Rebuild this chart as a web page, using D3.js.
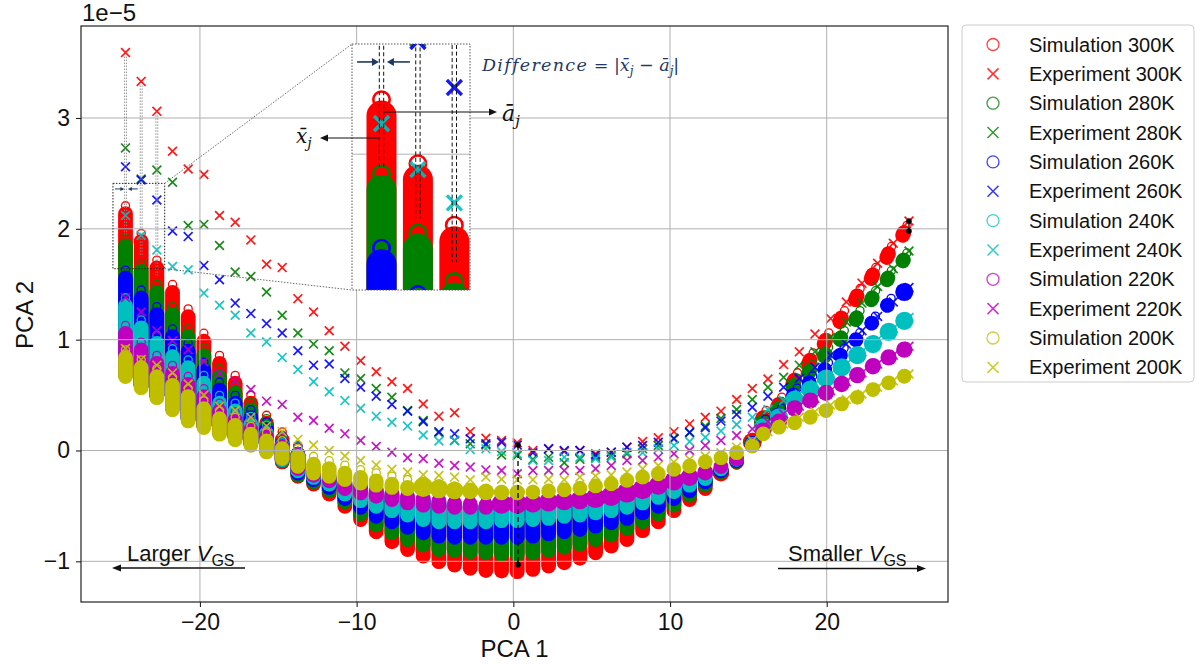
<!DOCTYPE html>
<html><head><meta charset="utf-8">
<script src="https://cdn.jsdelivr.net/npm/d3@7"></script>
<style>body{margin:0;background:#fff;} svg{display:block;}</style>
</head><body><svg id="c" width="1201" height="668"></svg>
<script>
// ---------- DATA ----------
const colX = [-24.75,-23.75,-22.75,-21.75,-20.75,-19.75,-18.75,-17.75,-16.75,-15.75,
-14.75,-13.75,-12.75,-11.75,-10.75,-9.75,-8.75,-7.75,-6.75,-5.75,
-4.75,-3.75,-2.75,-1.75,-0.75,0.25,1.25,2.25,3.25,4.25,
5.25,6.25,7.25,8.25,9.25,10.25,11.25,12.25,13.25,14.25,
15.25,16.25,17.25,18.25,19.25,20.25,21.25,22.25,23.25,24.25,25.25];
const simSlant = [0,0,0,0,0,0,0,0,0,0, 0,0,0,0,0,0,0,0,0,0, 0,0,0,0,0,0,0,0,0,0, 0,0,0,0,0,0,0,0,0,0,
0, 0.6,0.6,0.6,0.6,0.6,0.6,0.6,0.6,0.6,0.6];
const temps = ["300K","280K","260K","240K","220K","200K"];
const colors = ["#ff0000","#008000","#0000ff","#00bfbf","#bf00bf","#bfbf00"];

const expRed = [3.59,3.33,3.06,2.70,2.54,2.49,2.12,2.06,1.90,1.68,
1.65,1.37,1.25,1.08,0.94,0.81,0.71,0.62,0.56,0.42,
0.31,0.34,0.17,0.11,0.09,0.07,0.00,0.015,-0.01,0.00,
-0.03,-0.015,0.03,0.08,0.115,0.17,0.24,0.30,0.355,0.46,
0.56,0.645,0.775,0.89,1.05,1.19,1.34,1.51,1.69,1.87,2.07];
const expGreen = [2.73,2.45,2.53,2.42,2.03,2.04,1.85,1.61,1.57,1.43,
1.22,1.06,0.96,0.90,0.70,0.65,0.56,0.48,0.36,0.27,
0.16,0.09,0.06,0.05,-0.04,-0.045,-0.08,-0.06,-0.11,-0.08,
-0.06,-0.045,-0.03,0.015,0.045,0.11,0.16,0.22,0.29,0.37,
0.46,0.57,0.66,0.77,0.89,1.02,1.16,1.33,1.48,1.64,1.80];
const expBlue = [2.56,2.44,2.26,1.98,1.93,1.67,1.54,1.33,1.235,1.145,
1.06,0.90,0.77,0.78,0.65,0.57,0.49,0.415,0.355,0.26,
0.17,0.15,0.105,0.06,0.075,0.05,-0.02,0.015,0.00,0.00,
-0.04,-0.015,0.03,0.045,0.075,0.105,0.165,0.205,0.265,0.325,
0.39,0.49,0.57,0.65,0.75,0.86,0.96,1.08,1.21,1.34,1.47];
const expCyan = [2.12,1.94,1.81,1.66,1.63,1.42,1.31,1.22,1.06,0.98,
0.84,0.73,0.62,0.53,0.45,0.38,0.31,0.255,0.22,0.14,
0.085,0.09,0.01,0.015,-0.01,-0.03,-0.09,-0.09,-0.06,-0.06,
-0.075,-0.06,-0.015,-0.02,0.015,0.045,0.08,0.12,0.175,0.235,
0.30,0.37,0.45,0.51,0.60,0.69,0.78,0.89,1.00,1.10,1.20];
const expMagenta = [1.38,1.25,1.08,0.99,0.91,0.80,0.70,0.63,0.55,0.445,
0.415,0.30,0.27,0.20,0.15,0.09,0.036,-0.015,-0.066,-0.075,
-0.115,-0.135,-0.15,-0.175,-0.18,-0.21,-0.18,-0.18,-0.18,-0.18,
-0.165,-0.135,-0.09,-0.09,-0.06,-0.03,0.00,0.045,0.09,0.135,
0.195,0.26,0.33,0.40,0.47,0.54,0.62,0.70,0.78,0.86,0.94];
const expYellow = [0.92,0.82,0.77,0.70,0.60,0.50,0.40,0.36,0.30,0.22,
0.17,0.10,0.05,0.00,-0.05,-0.09,-0.13,-0.17,-0.195,-0.22,
-0.225,-0.24,-0.265,-0.24,-0.26,-0.265,-0.265,-0.26,-0.265,-0.24,
-0.23,-0.22,-0.195,-0.165,-0.135,-0.105,-0.08,-0.05,-0.02,0.03,
0.09,0.17,0.24,0.30,0.35,0.41,0.46,0.51,0.57,0.63,0.69];

const simTopRed = [2.25,2.00,1.76,1.54,1.32,1.10,0.90,0.72,0.54,0.36,
0.21,0.08,-0.13,-0.17,-0.21,-0.25,-0.28,-0.31,-0.34,-0.36,
-0.38,-0.40,-0.41,-0.42,-0.43,-0.43,-0.43,-0.42,-0.41,-0.40,
-0.38,-0.36,-0.33,-0.30,-0.27,-0.23,-0.20,-0.165,-0.13,-0.09,
0.16,0.40,0.52,0.74,0.92,1.10,1.30,1.50,1.69,1.88,2.07];
const simBotRed = [0.62,0.52,0.43,0.32,0.22,0.16,0.10,0.05,0.00,-0.06,
-0.17,-0.30,-0.37,-0.46,-0.57,-0.69,-0.80,-0.89,-0.96,-1.02,
-1.07,-1.10,-1.13,-1.15,-1.155,-1.16,-1.14,-1.11,-1.08,-1.04,
-0.99,-0.93,-0.87,-0.79,-0.71,-0.61,-0.51,-0.41,-0.28,-0.12,
-0.01,0.20,0.32,0.54,0.72,0.90,1.10,1.30,1.49,1.68,1.88];
const simTopGreen = [1.96,1.73,1.54,1.34,1.14,0.97,0.78,0.63,0.48,0.33,
0.18,0.08,-0.12,-0.16,-0.20,-0.24,-0.27,-0.30,-0.33,-0.35,
-0.37,-0.39,-0.40,-0.41,-0.42,-0.42,-0.42,-0.41,-0.40,-0.39,
-0.37,-0.35,-0.32,-0.29,-0.26,-0.22,-0.19,-0.155,-0.12,-0.08,
0.14,0.36,0.48,0.69,0.82,0.97,1.12,1.30,1.48,1.66,1.82];
const simBotGreen = [0.62,0.52,0.43,0.32,0.22,0.16,0.10,0.05,0.00,-0.06,
-0.16,-0.29,-0.35,-0.43,-0.53,-0.64,-0.74,-0.81,-0.87,-0.92,
-0.96,-0.97,-0.98,-0.99,-1.00,-1.00,-0.99,-0.97,-0.94,-0.91,
-0.87,-0.83,-0.77,-0.71,-0.64,-0.56,-0.47,-0.38,-0.26,-0.11,
-0.01,0.18,0.30,0.51,0.64,0.79,0.94,1.12,1.30,1.48,1.65];
const simTopBlue = [1.67,1.49,1.34,1.14,1.01,0.84,0.66,0.54,0.41,0.30,
0.17,0.08,-0.11,-0.15,-0.19,-0.23,-0.26,-0.29,-0.32,-0.34,
-0.36,-0.38,-0.39,-0.40,-0.41,-0.41,-0.41,-0.40,-0.39,-0.38,
-0.36,-0.34,-0.31,-0.28,-0.25,-0.21,-0.18,-0.145,-0.11,-0.07,
0.13,0.32,0.42,0.60,0.71,0.83,0.96,1.10,1.25,1.41,1.50];
const simBotBlue = [0.62,0.52,0.43,0.32,0.22,0.16,0.10,0.05,0.00,-0.06,
-0.15,-0.27,-0.33,-0.40,-0.50,-0.58,-0.66,-0.71,-0.76,-0.81,
-0.84,-0.85,-0.85,-0.85,-0.85,-0.85,-0.84,-0.82,-0.80,-0.78,
-0.75,-0.72,-0.68,-0.63,-0.57,-0.50,-0.43,-0.35,-0.25,-0.11,
-0.01,0.16,0.26,0.44,0.55,0.67,0.80,0.94,1.09,1.25,1.36];
const simTopCyan = [1.42,1.22,1.08,0.96,0.86,0.72,0.54,0.47,0.35,0.27,
0.16,0.075,-0.10,-0.14,-0.18,-0.22,-0.25,-0.28,-0.31,-0.33,
-0.35,-0.37,-0.38,-0.39,-0.40,-0.40,-0.40,-0.39,-0.38,-0.37,
-0.35,-0.33,-0.30,-0.27,-0.24,-0.20,-0.17,-0.135,-0.10,-0.06,
0.12,0.28,0.37,0.53,0.62,0.72,0.82,0.93,1.03,1.14,1.24];
const simBotCyan = [0.62,0.52,0.43,0.32,0.22,0.16,0.10,0.05,0.00,-0.06,
-0.15,-0.25,-0.31,-0.37,-0.46,-0.52,-0.57,-0.61,-0.65,-0.69,
-0.71,-0.71,-0.71,-0.71,-0.70,-0.70,-0.69,-0.68,-0.66,-0.65,
-0.63,-0.61,-0.58,-0.54,-0.49,-0.44,-0.38,-0.32,-0.23,-0.10,
-0.01,0.14,0.23,0.39,0.48,0.58,0.68,0.79,0.89,1.00,1.10];
const simTopMagenta = [1.17,1.02,0.90,0.81,0.71,0.60,0.47,0.39,0.30,0.24,
0.15,0.07,-0.09,-0.13,-0.17,-0.21,-0.24,-0.27,-0.30,-0.32,
-0.34,-0.36,-0.37,-0.38,-0.39,-0.39,-0.39,-0.38,-0.37,-0.36,
-0.34,-0.32,-0.29,-0.26,-0.23,-0.19,-0.16,-0.125,-0.09,-0.05,
0.10,0.24,0.32,0.44,0.51,0.58,0.66,0.74,0.82,0.90,0.97];
const simBotMagenta = [0.62,0.52,0.43,0.32,0.22,0.16,0.10,0.05,0.00,-0.06,
-0.14,-0.23,-0.29,-0.34,-0.41,-0.45,-0.48,-0.51,-0.54,-0.56,
-0.57,-0.58,-0.58,-0.58,-0.57,-0.57,-0.56,-0.55,-0.54,-0.53,
-0.52,-0.50,-0.47,-0.44,-0.40,-0.36,-0.32,-0.27,-0.20,-0.10,
-0.01,0.12,0.20,0.32,0.39,0.46,0.54,0.62,0.70,0.78,0.85];
const simTopYellow = [0.95,0.86,0.78,0.70,0.60,0.49,0.40,0.34,0.26,0.20,
0.13,0.06,-0.01,-0.05,-0.09,-0.13,-0.16,-0.19,-0.22,-0.24,
-0.26,-0.28,-0.29,-0.30,-0.31,-0.31,-0.31,-0.30,-0.29,-0.28,
-0.26,-0.24,-0.21,-0.18,-0.15,-0.11,-0.08,-0.045,-0.01,0.03,
0.09,0.20,0.26,0.30,0.35,0.41,0.47,0.53,0.60,0.66,0.72];
const simBotYellow = [0.60,0.50,0.41,0.30,0.20,0.14,0.08,0.03,-0.02,-0.08,
-0.14,-0.21,-0.27,-0.30,-0.33,-0.36,-0.38,-0.40,-0.41,-0.42,
-0.43,-0.44,-0.44,-0.45,-0.45,-0.45,-0.44,-0.43,-0.42,-0.40,
-0.38,-0.36,-0.33,-0.30,-0.27,-0.23,-0.20,-0.16,-0.12,-0.07,
-0.01,0.10,0.16,0.20,0.25,0.31,0.37,0.43,0.50,0.56,0.62];

const xTicks = [-20,-10,0,10,20];
const yTicks = [-1,0,1,2,3];

// annotation data
const guideXa = [-24.81,-23.81,-22.81];
const guideXb = [-24.69,-23.69,-22.69];
const guideTop = [3.59,3.33,3.06];
const guideBot = [1.95,1.75,1.58];
const gapArrowY = 2.36;
const gapArrowFrom = [-25.42,-23.97];
const gapArrowTo = [-24.82,-24.60];
const zoomBox = [-25.55,-22.25,1.64,2.41];
const insetDomX = [-25.56,-22.32];
const insetDomY = [1.47,2.43];
const markX = [0.3,25.25];
const markTop = [0.05,2.07];
const markBot = [-1.03,1.98];

// ---------- DRAW ----------
const svg = d3.select("#c");
const SANS = '"Liberation Sans", Arial, sans-serif';
const SERIF = '"DejaVu Serif", "Liberation Serif", serif';
const NAVY = "#1f3864";
const M = {l:81, t:26, r:948, b:602};
const x = d3.scaleLinear().domain([-27.59, 27.74]).range([M.l, M.r]);
const y = d3.scaleLinear().domain([-1.367, 3.83]).range([M.b, M.t]);

const series = [
 {name:temps[0], color:colors[0], top:simTopRed, bot:simBotRed, exp:expRed},
 {name:temps[1], color:colors[1], top:simTopGreen, bot:simBotGreen, exp:expGreen},
 {name:temps[2], color:colors[2], top:simTopBlue, bot:simBotBlue, exp:expBlue},
 {name:temps[3], color:colors[3], top:simTopCyan, bot:simBotCyan, exp:expCyan},
 {name:temps[4], color:colors[4], top:simTopMagenta, bot:simBotMagenta, exp:expMagenta},
 {name:temps[5], color:colors[5], top:simTopYellow, bot:simBotYellow, exp:expYellow}
];

const defs = svg.append("defs");
defs.append("clipPath").attr("id","mainClip").append("rect")
  .attr("x",M.l).attr("y",M.t).attr("width",M.r-M.l).attr("height",M.b-M.t);
const IB = {x:352, y:44, w:118, h:246};
defs.append("clipPath").attr("id","insetClip").append("rect")
  .attr("x",IB.x).attr("y",IB.y).attr("width",IB.w).attr("height",IB.h);

svg.append("rect").attr("width",1201).attr("height",668).attr("fill","#fff");

function drawData(g, sx, sy, P){
  series.forEach(s=>{
    const gs = g.append("g");
    colX.forEach((cx,k)=>{
      const xt = sx(cx), yt = sy(s.top[k]);
      const xb = sx(cx - simSlant[k]), yb = sy(s.bot[k]);
      const dx = xt-xb, dy = yt-yb, L = Math.hypot(dx,dy)||1e-6;
      const ux = dx/L, uy = dy/L;
      const ti = P.r + P.ringR*1.1, bi = P.r;
      if (L > ti+bi){
        gs.append("line")
          .attr("x1", xb+ux*bi).attr("y1", yb+uy*bi)
          .attr("x2", xt-ux*ti).attr("y2", yt-uy*ti)
          .attr("stroke", s.color).attr("stroke-width", 2*P.r)
          .attr("stroke-linecap","round");
      } else {
        gs.append("circle").attr("cx",(xt+xb)/2).attr("cy",(yt+yb)/2)
          .attr("r",Math.max(P.r, L/2)).attr("fill",s.color);
      }
      gs.append("circle").attr("cx", xt-ux*P.ringR).attr("cy", yt-uy*P.ringR)
        .attr("r", P.ringR - P.ringW/2).attr("fill","none")
        .attr("stroke", s.color).attr("stroke-width", P.ringW);
    });
    const ge = g.append("g").attr("stroke", s.color).attr("stroke-width", P.cw)
      .attr("stroke-opacity",0.9).attr("fill","none");
    colX.forEach((cx,k)=>{
      const px = sx(cx), py = sy(s.exp[k]), h = P.cs;
      ge.append("path").attr("d",`M${px-h},${py-h}L${px+h},${py+h}M${px-h},${py+h}L${px+h},${py-h}`);
    });
  });
}

function drawGrid(g, sx, sy, x0, x1, y0, y1){
  xTicks.forEach(t=>{ const p = sx(t); if(p>=x0 && p<=x1)
    g.append("line").attr("x1",p).attr("x2",p).attr("y1",y0).attr("y2",y1)
     .attr("stroke","#b0b0b0").attr("stroke-width",1); });
  yTicks.forEach(t=>{ const p = sy(t); if(p>=y0 && p<=y1)
    g.append("line").attr("y1",p).attr("y2",p).attr("x1",x0).attr("x2",x1)
     .attr("stroke","#b0b0b0").attr("stroke-width",1); });
}

function arrow(g, x1,y1,x2,y2,color,w,hl,hw){
  const dx=x2-x1, dy=y2-y1, L=Math.hypot(dx,dy), ux=dx/L, uy=dy/L;
  g.append("line").attr("x1",x1).attr("y1",y1).attr("x2",x2-ux*hl*0.8).attr("y2",y2-uy*hl*0.8)
    .attr("stroke",color).attr("stroke-width",w);
  const bx=x2-ux*hl, by=y2-uy*hl;
  g.append("path").attr("d",`M${x2},${y2}L${bx-uy*hw},${by+ux*hw}L${bx+uy*hw},${by-ux*hw}Z`).attr("fill",color);
}

// main data
const gMain = svg.append("g").attr("clip-path","url(#mainClip)");
drawData(gMain, x, y, {r:7.4, ringR:4.7, ringW:1.3, cs:4.4, cw:1.7});
drawGrid(gMain, x, y, M.l, M.r, M.t, M.b);

// guides in main
const gGuide = svg.append("g");
guideXa.forEach((gx,i)=>{
  [gx, guideXb[i]].forEach(xx=>{
    gGuide.append("line").attr("x1",x(xx)).attr("x2",x(xx))
      .attr("y1",y(guideTop[i])+4).attr("y2",y(guideBot[i]))
      .attr("stroke","#888").attr("stroke-width",0.9).attr("stroke-dasharray","1.5,1.5");
  });
});
gapArrowFrom.forEach((f,i)=> arrow(gGuide, x(f), y(gapArrowY), x(gapArrowTo[i]), y(gapArrowY), NAVY, 1, 4, 2));

// zoom box in main + connectors
const zx0 = x(zoomBox[0]), zx1 = x(zoomBox[1]), zy0 = y(zoomBox[3]), zy1 = y(zoomBox[2]);
gGuide.append("rect").attr("x",zx0).attr("y",zy0).attr("width",zx1-zx0).attr("height",zy1-zy0)
  .attr("fill","none").attr("stroke","#222").attr("stroke-width",1).attr("stroke-dasharray","1.5,1.5");
gGuide.append("line").attr("x1",zx1).attr("y1",zy0).attr("x2",IB.x).attr("y2",IB.y)
  .attr("stroke","#444").attr("stroke-width",0.8).attr("stroke-dasharray","1.5,1.5");
gGuide.append("line").attr("x1",zx1).attr("y1",zy1).attr("x2",IB.x).attr("y2",IB.y+IB.h)
  .attr("stroke","#444").attr("stroke-width",0.8).attr("stroke-dasharray","1.5,1.5");

// difference markers
markX.forEach((mx,i)=>{
  gGuide.append("line").attr("x1",x(mx)).attr("x2",x(mx)).attr("y1",y(markTop[i])).attr("y2",y(markBot[i]))
    .attr("stroke","#000").attr("stroke-width",1.3).attr("stroke-dasharray", i===0?"5,3":null);
  [markTop[i], markBot[i]].forEach(v=> gGuide.append("circle").attr("cx",x(mx)).attr("cy",y(v)).attr("r",2.8).attr("fill","#000"));
});

// frame
svg.append("rect").attr("x",M.l).attr("y",M.t).attr("width",M.r-M.l).attr("height",M.b-M.t)
  .attr("fill","none").attr("stroke","#222").attr("stroke-width",1.2);

// axes
const fmt = d3.format("d");
const ax = svg.append("g").attr("transform",`translate(0,${M.b})`)
  .call(d3.axisBottom(x).tickValues(xTicks).tickSize(5).tickPadding(7).tickFormat(fmt));
const ay = svg.append("g").attr("transform",`translate(${M.l},0)`)
  .call(d3.axisLeft(y).tickValues(yTicks).tickSize(5).tickPadding(6).tickFormat(fmt));
[ax,ay].forEach(a=>{
  a.select(".domain").remove();
  a.selectAll("line").attr("stroke","#222").attr("stroke-width",1.1);
  a.selectAll("text").attr("font-family",SANS).attr("font-size",23).attr("fill","#111");
});

svg.append("text").attr("x",82).attr("y",21).attr("font-family",SANS).attr("font-size",24).attr("fill","#111").text("1e\u22125");
svg.append("text").attr("x",(M.l+M.r)/2).attr("y",657).attr("text-anchor","middle")
  .attr("font-family",SANS).attr("font-size",24).attr("fill","#111").text("PCA 1");
svg.append("text").attr("transform","translate(33,315) rotate(-90)").attr("text-anchor","middle")
  .attr("font-family",SANS).attr("font-size",24).attr("fill","#111").text("PCA 2");

// V_GS annotations
function vgs(xp, yb, label){
  const t = svg.append("text").attr("x",xp).attr("y",yb).attr("font-family",SANS).attr("font-size",22).attr("fill","#111");
  t.append("tspan").text(label+" ");
  t.append("tspan").attr("font-style","italic").text("V");
  t.append("tspan").attr("font-size",16).attr("dy",5).text("GS");
}
vgs(127, 561, "Larger");
arrow(svg, 245, 568, 112, 568, "#111", 1.3, 9, 3.5);
vgs(788, 561, "Smaller");
arrow(svg, 778, 568.5, 926, 568.5, "#111", 1.3, 9, 3.5);

// ---------- INSET ----------
const xi = d3.scaleLinear().domain(insetDomX).range([IB.x, IB.x+IB.w]);
const yi = d3.scaleLinear().domain(insetDomY).range([IB.y+IB.h, IB.y]);
const gIn = svg.append("g").attr("clip-path","url(#insetClip)");
gIn.append("rect").attr("x",IB.x).attr("y",IB.y).attr("width",IB.w).attr("height",IB.h).attr("fill","#fff");
drawGrid(gIn, xi, yi, IB.x, IB.x+IB.w, IB.y, IB.y+IB.h);
drawData(gIn, xi, yi, {r:15, ringR:9.5, ringW:2.6, cs:7.5, cw:3.4});
guideXa.forEach((gx,i)=>{
  [gx, guideXb[i]].forEach(xx=>{
    gIn.append("line").attr("x1",xi(xx)).attr("x2",xi(xx))
      .attr("y1",yi(guideTop[i])).attr("y2",yi(guideBot[i]))
      .attr("stroke","#111").attr("stroke-width",1).attr("stroke-dasharray","4,2.5");
  });
});
gapArrowFrom.forEach((f,i)=> arrow(gIn, xi(f), yi(gapArrowY), xi(gapArrowTo[i]), yi(gapArrowY), NAVY, 1.6, 7, 4));
svg.append("rect").attr("x",IB.x).attr("y",IB.y).attr("width",IB.w).attr("height",IB.h)
  .attr("fill","none").attr("stroke","#555").attr("stroke-width",1).attr("stroke-dasharray","1.5,1.5");

// a-bar and x-bar labels
arrow(svg, xi(guideXb[0]), 112, 497, 112, "#111", 1.2, 8, 3.5);
arrow(svg, xi(guideXa[0])+1, 138, 320, 138, "#111", 1.2, 8, 3.5);
const tA = svg.append("text").attr("x",502).attr("y",121).attr("font-family",SERIF).attr("font-style","italic").attr("font-size",22).attr("fill","#111");
tA.append("tspan").text("a\u0304");
tA.append("tspan").attr("font-size",15).attr("dy",5).text("j");
const tX = svg.append("text").attr("x",296).attr("y",143).attr("font-family",SERIF).attr("font-style","italic").attr("font-size",20).attr("fill","#111");
tX.append("tspan").text("x\u0304");
tX.append("tspan").attr("font-size",14).attr("dy",5).text("j");

const tD = svg.append("text").attr("x",482).attr("y",71).attr("font-family",SERIF).attr("font-size",17.5).attr("fill",NAVY);
tD.append("tspan").attr("font-style","italic").attr("letter-spacing",1.3).text("Difference");
tD.append("tspan").text(" = |");
tD.append("tspan").attr("font-style","italic").text("x\u0304");
tD.append("tspan").attr("font-style","italic").attr("font-size",12).attr("dy",4).text("j");
tD.append("tspan").attr("dy",-4).text("  \u2212  ");
tD.append("tspan").attr("font-style","italic").text("a\u0304");
tD.append("tspan").attr("font-style","italic").attr("font-size",12).attr("dy",4).text("j");
tD.append("tspan").attr("dy",-4).text("|");

// ---------- LEGEND ----------
const lg = svg.append("g");
lg.append("rect").attr("x",962).attr("y",25).attr("width",232).attr("height",357).attr("rx",4)
  .attr("fill","#fff").attr("stroke","#cccccc").attr("stroke-width",1);
const items = series.flatMap(s=>[{t:"Simulation "+s.name,c:s.color,m:"o"},{t:"Experiment "+s.name,c:s.color,m:"x"}]);
items.forEach((it,i)=>{
  const cy = 44.5 + i*29.35, cx = 993;
  if(it.m==="o") lg.append("circle").attr("cx",cx).attr("cy",cy).attr("r",6).attr("fill","none")
      .attr("stroke",it.c).attr("stroke-width",1.3).attr("stroke-opacity",0.75);
  else lg.append("path").attr("d",`M${cx-5.5},${cy-5.5}L${cx+5.5},${cy+5.5}M${cx-5.5},${cy+5.5}L${cx+5.5},${cy-5.5}`)
      .attr("stroke",it.c).attr("stroke-width",1.5).attr("stroke-opacity",0.8);
  lg.append("text").attr("x",1029).attr("y",cy+7).attr("font-family",SANS).attr("font-size",20).attr("fill","#111").text(it.t);
});
</script></body></html>
